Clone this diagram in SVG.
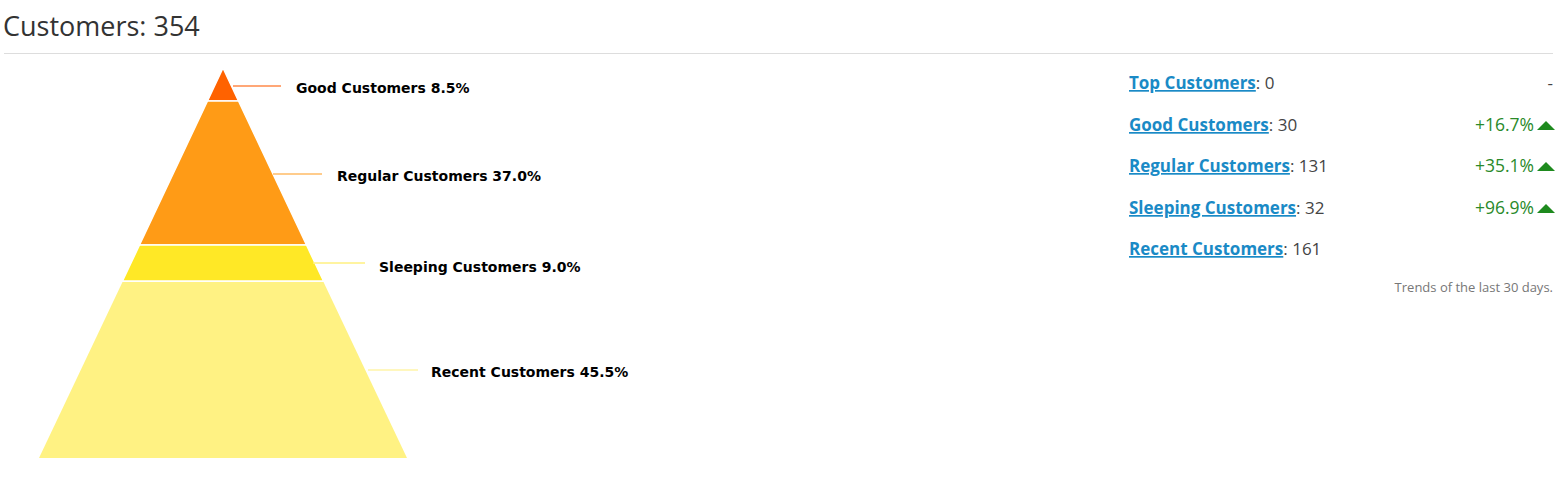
<svg xmlns="http://www.w3.org/2000/svg" width="1563" height="486" viewBox="0 0 1563 486">
<style>
.title{font-family:"Open Sans","Noto Sans",sans-serif;font-size:27px;fill:#333}
.lbl{font-family:"DejaVu Sans",sans-serif;font-size:14px;font-weight:bold;fill:#000}
.lnk{font-family:"Open Sans","Noto Sans",sans-serif;font-size:17px;font-weight:700;fill:#1a8ac6;text-decoration:underline}
.val{font-family:"Open Sans","Noto Sans",sans-serif;font-size:17px;fill:#444}
.pct{font-family:"Open Sans","Noto Sans",sans-serif;font-size:17.5px;fill:#2a8a2a;text-anchor:end}
.note{font-family:"Open Sans","Noto Sans",sans-serif;font-size:13px;fill:#777;text-anchor:end}
.seg{stroke:#fff;stroke-width:1.5}
</style>
<text class="title" x="3" y="36">Customers: 354</text>
<line x1="4" y1="53.5" x2="1553" y2="53.5" stroke="#ddd" stroke-width="1"/>
<g id="pyramid">
<g id="good"><polygon class="seg" fill="#ff6200" points="223,68 238.5,101 207.5,101"/></g>
<g id="regular"><polygon class="seg" fill="#ff9b16" points="207.5,101 238.5,101 306.5,245 139.5,245"/></g>
<g id="sleeping"><polygon class="seg" fill="#ffe826" points="139.5,245 306.5,245 323.5,281 122.5,281"/></g>
<g id="recent"><polygon fill="#fff283" points="122.5,282 323.5,282 407,458 39,458"/></g>
</g>
<g id="connectors" stroke-width="1.5">
<line x1="233" y1="86" x2="281" y2="86" stroke="#ff8a4a"/>
<line x1="273" y1="174" x2="322" y2="174" stroke="#ffbb66"/>
<line x1="313" y1="263" x2="365" y2="263" stroke="#fff080"/>
<line x1="368" y1="370" x2="418" y2="370" stroke="#fff5a8"/>
</g>
<g id="labels">
<text class="lbl" x="296" y="93">Good Customers 8.5%</text>
<text class="lbl" x="337" y="181">Regular Customers 37.0%</text>
<text class="lbl" x="379" y="272">Sleeping Customers 9.0%</text>
<text class="lbl" x="431" y="377">Recent Customers 45.5%</text>
</g>
<g id="stats">
<g id="row-top"><text x="1129" y="89"><tspan class="lnk">Top Customers</tspan><tspan class="val">: 0</tspan></text><text class="val" x="1553" y="89" text-anchor="end">-</text></g>
<g id="row-good"><text x="1129" y="131"><tspan class="lnk">Good Customers</tspan><tspan class="val">: 30</tspan></text><text class="pct" x="1534" y="131">+16.7%</text><polygon fill="#1e8a1e" points="1537,130 1546,121 1555,130"/></g>
<g id="row-regular"><text x="1129" y="172"><tspan class="lnk">Regular Customers</tspan><tspan class="val">: 131</tspan></text><text class="pct" x="1534" y="172">+35.1%</text><polygon fill="#1e8a1e" points="1537,171 1546,162 1555,171"/></g>
<g id="row-sleeping"><text x="1129" y="214"><tspan class="lnk">Sleeping Customers</tspan><tspan class="val">: 32</tspan></text><text class="pct" x="1534" y="214">+96.9%</text><polygon fill="#1e8a1e" points="1537,213 1546,204 1555,213"/></g>
<g id="row-recent"><text x="1129" y="255"><tspan class="lnk">Recent Customers</tspan><tspan class="val">: 161</tspan></text></g>
<text class="note" x="1553" y="292">Trends of the last 30 days.</text>
</g>
</svg>
